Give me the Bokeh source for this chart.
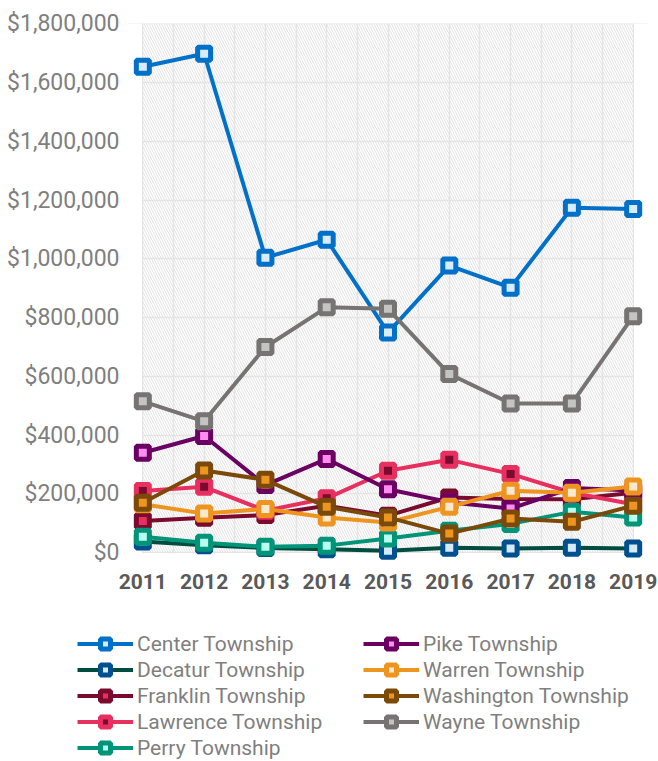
from bokeh.plotting import figure
from bokeh.layouts import column
from bokeh.models import (Range1d, FixedTicker, NumeralTickFormatter, BoxAnnotation,
                          Legend, LegendItem, ColumnDataSource)
from bokeh.embed import file_html
from bokeh.resources import INLINE

years = [2011, 2012, 2013, 2014, 2015, 2016, 2017, 2018, 2019]
grid_years = [2011, 2011.5, 2012, 2012.5, 2013, 2013.5, 2014, 2014.5, 2015, 2015.5,
              2016, 2016.5, 2017, 2017.5, 2018, 2018.5, 2019]
y_ticks = [0, 200000, 400000, 600000, 800000, 1000000, 1200000, 1400000, 1600000, 1800000]

center = [1654000, 1698000, 1004000, 1065000, 749000, 977000, 902000, 1174000, 1170000]
decatur = [38000, 25000, 16000, 12000, 7000, 17000, 14000, 17000, 14000]
franklin = [108000, 119000, 128000, 160000, 126000, 188000, 183000, 182000, 204000]
lawrence = [210000, 224000, 143000, 185000, 279000, 316000, 268000, 204000, 165000]
perry = [54000, 34000, 20000, 24000, 48000, 75000, 98000, 139000, 120000]
pike = [340000, 397000, 230000, 319000, 216000, 172000, 150000, 220000, 212000]
warren = [165000, 133000, 149000, 120000, 103000, 156000, 211000, 204000, 225000]
washington = [170000, 280000, 248000, 156000, 120000, 65000, 116000, 105000, 160000]
wayne = [515000, 447000, 700000, 835000, 830000, 608000, 508000, 508000, 805000]

series = [
    ("Center Township", center, "#0070c8", "#0070c8", "#d9ecfc"),
    ("Decatur Township", decatur, "#004d40", "#005090", "#d6eaf8"),
    ("Franklin Township", franklin, "#7a0a2e", "#7a0a2e", "#e83060"),
    ("Lawrence Township", lawrence, "#e83060", "#e83060", "#7a0a2e"),
    ("Perry Township", perry, "#009478", "#009478", "#b9fff0"),
    ("Pike Township", pike, "#6b0063", "#6b0063", "#ff8cf0"),
    ("Warren Township", warren, "#ee9520", "#ee9520", "#fce8d0"),
    ("Washington Township", washington, "#7b4a0a", "#7b4a0a", "#ee9520"),
    ("Wayne Township", wayne, "#777372", "#777372", "#c4c4c4"),
]

p = figure(width=658, height=605, output_backend="svg", toolbar_location=None,
           x_range=Range1d(2010.75, 2019.25), y_range=Range1d(-30000, 1801000),
           min_border_left=127, min_border_right=10, min_border_top=23,
           min_border_bottom=44)
p.outline_line_color = None

# grid
p.xgrid.ticker = FixedTicker(ticks=grid_years)
p.ygrid.ticker = FixedTicker(ticks=y_ticks)
for g in (p.xgrid, p.ygrid):
    g.grid_line_color = "#e6e6e6"
    g.grid_line_width = 1.5

# hatched plot area
p.add_layout(BoxAnnotation(left=2011, right=2019, bottom=0, top=1800000,
                           fill_alpha=0, line_color=None,
                           hatch_pattern="left_diagonal_line", hatch_color="#e2e2e2",
                           hatch_scale=5, hatch_weight=1, level="underlay"))
# mask grid beyond the plot area
for kw in (dict(right=2010.985), dict(left=2019.015), dict(top=-1500)):
    p.add_layout(BoxAnnotation(fill_color="white", fill_alpha=1, line_color=None,
                               level="underlay", **kw))

# axes
p.xaxis.ticker = FixedTicker(ticks=years)
p.yaxis.ticker = FixedTicker(ticks=y_ticks)
p.yaxis.formatter = NumeralTickFormatter(format="$0,0")
for ax in (p.xaxis, p.yaxis):
    ax.axis_line_color = None
    ax.major_tick_line_color = None
    ax.minor_tick_line_color = None
    ax.major_tick_out = 0
    ax.major_tick_in = 0
    ax.minor_tick_out = 0
p.yaxis.major_label_text_font = "Roboto"
p.yaxis.major_label_text_font_size = "23px"
p.yaxis.major_label_text_color = "#7f7f7f"
p.yaxis.major_label_standoff = 8
p.xaxis.major_label_text_font = "Roboto"
p.xaxis.major_label_text_font_style = "bold"
p.xaxis.major_label_text_font_size = "21px"
p.xaxis.major_label_text_color = "#595959"
p.xaxis.major_label_standoff = 12

# legend figure (below the chart)
lf = figure(width=658, height=156, output_backend="svg", toolbar_location=None,
            x_range=Range1d(0, 1), y_range=Range1d(0, 1),
            x_axis_location=None, y_axis_location=None,
            min_border_left=0, min_border_right=0, min_border_top=0, min_border_bottom=0)
lf.outline_line_color = None
lf.xgrid.visible = False
lf.ygrid.visible = False

aligned_off = True
try:
    p.frame_align = False
    lf.frame_align = False
except Exception:
    aligned_off = False
x_shift = 0 if aligned_off else -127

items = []
for name, vals, lc, mc, fc in series:
    src = ColumnDataSource(dict(x=years, y=vals))
    p.line("x", "y", source=src, line_color=lc, line_width=4)
    p.scatter("x", "y", source=src, marker="square", size=13,
              line_color=mc, line_width=5, fill_color=fc)
    # same series in the legend figure (outside its visible range) to draw legend swatches
    lr = lf.line("x", "y", source=src, line_color=lc, line_width=4)
    sr = lf.scatter("x", "y", source=src, marker="square", size=14,
                    line_color=mc, line_width=5, fill_color=fc)
    items.append(LegendItem(label=name, renderers=[lr, sr]))

def make_legend(its, loc):
    return Legend(items=its, location=loc, orientation="vertical",
                  padding=0, margin=0, spacing=1, label_standoff=4,
                  glyph_width=56, glyph_height=25, label_height=25,
                  label_text_font="Roboto", label_text_font_size="21px",
                  label_text_color="#7f7f7f", background_fill_alpha=0,
                  border_line_color=None)

lf.add_layout(make_legend(items[:5], (77 + x_shift, 1)))
lf.add_layout(make_legend(items[5:], (363 + x_shift, 27)))

layout = column(p, lf, spacing=0)
open("out.html", "w").write(file_html(layout, INLINE))
